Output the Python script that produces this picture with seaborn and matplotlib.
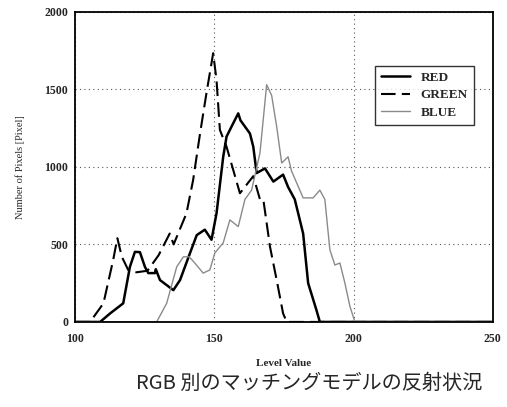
import numpy as np
import pandas as pd
import matplotlib.pyplot as plt
import seaborn as sns

# level values / pixel counts
red_level = [100, 109, 112.6, 117.3, 119.7, 121.5, 123.3, 125.1, 126.3, 128.7, 129, 130.5,
             135.3, 137.7, 141.3, 143.7, 146.6, 149, 150.8, 153.2, 154.4, 156.2, 158.6,
             159.4, 161, 162.8, 164, 165.2, 168.2, 171.2, 174.7, 176.5, 178.9, 181.9,
             183.7, 186.7, 187.9, 250]
red_count = [0, 0, 55, 120, 355, 452, 450, 355, 315, 315, 340, 270,
             205, 270, 445, 560, 595, 530, 700, 1065, 1195, 1260, 1345,
             1300, 1260, 1215, 1130, 960, 990, 905, 950, 870, 790, 570,
             250, 75, 0, 0]

green_level = [100, 105.4, 110.2, 113.7, 115.2, 116.8, 119.1, 122, 126, 130, 134, 135.4,
               140, 142.4, 144.9, 147.2, 149.6, 150.8, 152, 152.4, 154.4, 159.2, 164,
               166.4, 167.6, 170, 172.4, 174.7, 176, 250]
green_count = [0, 0, 120, 400, 540, 420, 335, 320, 330, 430, 570, 500,
               700, 915, 1217, 1477, 1733, 1560, 1240, 1220, 1130, 830, 940,
               790, 790, 485, 270, 55, 0, 0]

blue_level = [100, 129.3, 132.9, 136.5, 138.9, 141, 143, 146, 148.4, 150.2, 153.2, 155.6,
              158.6, 161, 163.4, 166.4, 168.8, 170.6, 172.4, 174.2, 176.5, 177.7, 181.9,
              185.5, 187.9, 189.7, 191.5, 193.3, 195.1, 196.9, 198.7, 200.5, 250]
blue_count = [0, 0, 120, 355, 420, 420, 380, 315, 335, 445, 510, 658,
              615, 790, 850, 1090, 1530, 1460, 1260, 1025, 1065, 975, 800,
              800, 850, 790, 465, 367, 380, 250, 100, 0, 0]

channels = ["RED", "GREEN", "BLUE"]

df = pd.concat([
    pd.DataFrame({"level": red_level, "count": red_count, "ch": "RED"}),
    pd.DataFrame({"level": green_level, "count": green_count, "ch": "GREEN"}),
    pd.DataFrame({"level": blue_level, "count": blue_count, "ch": "BLUE"}),
])

sns.set_style("white")
plt.rcParams["font.family"] = ["Liberation Serif", "DejaVu Serif"]

fig = plt.figure(figsize=(5.07, 4.07), dpi=100)
ax = fig.add_axes([0.148, 0.209, 0.824, 0.762])

sns.lineplot(
    data=df, x="level", y="count", hue="ch", style="ch",
    hue_order=channels, style_order=channels,
    palette={"RED": "black", "GREEN": "black", "BLUE": "#8a8a8a"},
    dashes={"RED": "", "GREEN": (7, 3), "BLUE": ""},
    sort=False, estimator=None, ax=ax,
)
for line, lw in zip(ax.get_lines()[:3], [1.8, 1.5, 1.0]):
    line.set_linewidth(lw)

ax.set_xlim(100, 250)
ax.set_ylim(0, 2000)
ax.set_xticks([100, 150, 200, 250])
ax.set_yticks([0, 500, 1000, 1500, 2000])
ax.grid(True, linestyle=(0, (1, 3)), color="#555555", linewidth=0.8)
for s in ax.spines.values():
    s.set_color("black")
    s.set_linewidth(1.3)
ax.tick_params(labelsize=8.5, length=0)
ax.tick_params(axis="x", pad=8)
ax.tick_params(axis="y", pad=5)
for t in ax.get_xticklabels() + ax.get_yticklabels():
    t.set_fontweight("bold")

ax.set_xlabel("Level Value", fontsize=8, fontweight="bold", labelpad=10)
ax.set_ylabel("Number of Pixels [Pixel]", fontsize=7.5, labelpad=14)

leg = ax.legend(
    handles=ax.get_lines()[:3], labels=channels,
    loc="upper left", bbox_to_anchor=(0.718, 0.826), borderaxespad=0,
    fontsize=9.5, frameon=True, fancybox=False, handlelength=2.2,
    borderpad=0.45, labelspacing=0.4,
)
leg.get_frame().set_edgecolor("black")
leg.get_frame().set_linewidth(1.0)
for t in leg.get_texts():
    t.set_fontweight("bold")

fig.text(0.61, 0.057, "RGB 別のマッチングモデルの反射状況", ha="center", va="center",
         fontsize=14.5, family=["Noto Sans CJK JP", "DejaVu Sans"])

fig.savefig("out.png", dpi=100)
